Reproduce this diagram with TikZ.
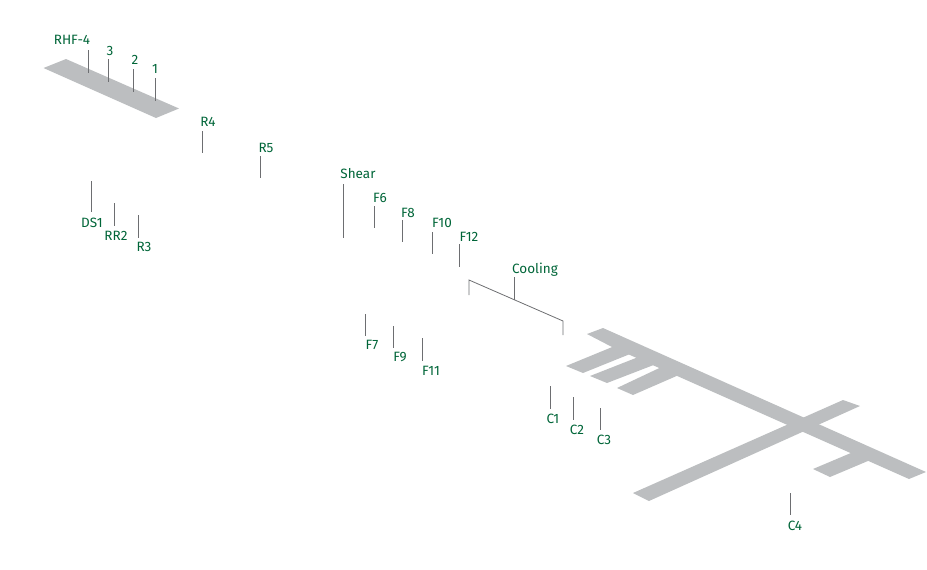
\documentclass[tikz,border=0pt]{standalone}
\usepackage{fontspec}
\setmainfont{Fira Sans}
\definecolor{lbl}{HTML}{006538}
\definecolor{deck}{HTML}{BCBEC0}
\definecolor{tick}{HTML}{6D6E71}
\tikzset{
  tag/.style={inner sep=0pt,text=lbl,yshift=-0.7pt,font=\fontsize{13.5}{15}\selectfont},
  bay/.style={fill=deck,draw=none},
  lead/.style={draw=tick,line width=0.8pt}
}
\begin{document}
\begin{tikzpicture}[x=1pt,y=-1pt]
\useasboundingbox (0,0) rectangle (927,570);
% decks
\fill[bay] (43.5,68) -- (66,59) -- (179,108.5) -- (156,118) -- cycle;
\fill[bay] (587,334) -- (603,328) -- (926,472) -- (909,479) -- (612,347) -- cycle;
\fill[bay] (633,493) -- (843,400) -- (860,406) -- (649,501) -- cycle;
\fill[bay] (813,469) -- (858,450) -- (875,458) -- (830,477) -- cycle;
\fill[bay] (566,366) -- (622,343) -- (640,350) -- (583,373) -- cycle;
\fill[bay] (590,376) -- (646,354) -- (664,361) -- (607,383) -- cycle;
\fill[bay] (617,388) -- (670,363) -- (688,371) -- (633,395) -- cycle;
% labels
\node[tag] (rhf) at (72,39) {RHF-4};
\node[tag] (n3) at (110,50) {3};
\node[tag] (n2) at (135,59) {2};
\node[tag] (n1) at (155,68) {1};
\node[tag] (r4) at (208,121) {R4};
\node[tag] (r5) at (266,147) {R5};
\node[tag] (shear) at (358,173) {Shear};
\node[tag] (f6) at (380,197) {F6};
\node[tag] (f8) at (408,212) {F8};
\node[tag] (f10) at (442,222) {F10};
\node[tag] (f12) at (469,236) {F12};
\node[tag] (cool) at (535,269) {Cooling};
\node[tag] (f7) at (372,344) {F7};
\node[tag] (f9) at (400,356) {F9};
\node[tag] (f11) at (431,370) {F11};
\node[tag] (ds1) at (92,222) {DS1};
\node[tag] (rr2) at (116,235) {RR2};
\node[tag] (r3) at (144,246) {R3};
\node[tag] (c1) at (553,418) {C1};
\node[tag] (c2) at (577,429) {C2};
\node[tag] (c3) at (604,439) {C3};
\node[tag] (c4) at (795,525) {C4};
% connector ends
\foreach \n/\x/\a/\b in {rhf/88.5/50/73,n3/108.5/59/82,n2/133/69/92,n1/155.5/78/101,r4/202/131/153,r5/260/156/178,shear/343/184/238,f6/374/206/228,f8/402/220/242,f10/432/232/254,f12/459/244/267,cool/514.5/277/300,f7/365/314/336,f9/393/326/348,f11/422/338/361,ds1/91/181/212,rr2/114/203/226,r3/138/215/238,c1/550/386/409,c2/573/397/420,c3/600/408/430,c4/790/493/515}{
  \coordinate (\n-a) at (\x,\a);
  \coordinate (\n-b) at (\x,\b);
  \draw[lead] (\n-a) -- (\n-b);
}
\coordinate (br1) at (469,295);
\coordinate (br2) at (469,280);
\coordinate (br3) at (563,321);
\coordinate (br4) at (563,335);
\draw[lead] (br1) -- (br2) -- (br3) -- (br4);
\end{tikzpicture}
\end{document}
